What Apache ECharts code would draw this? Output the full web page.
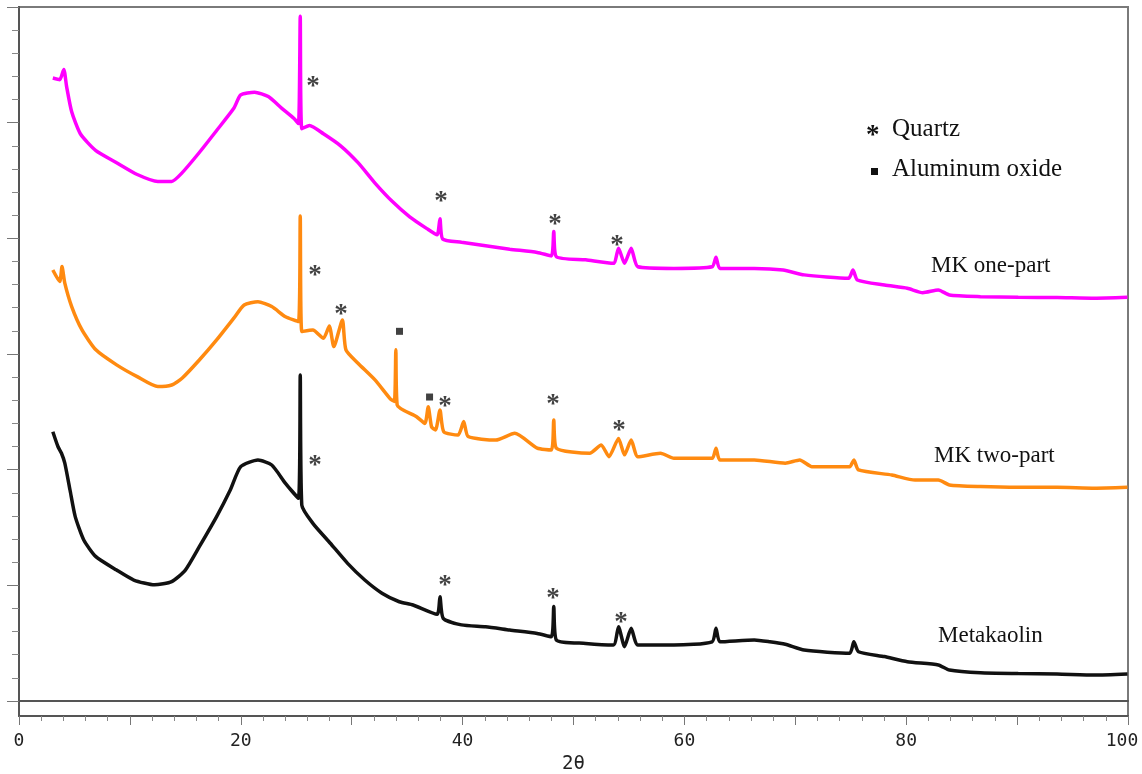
<!DOCTYPE html>
<html>
<head>
<meta charset="utf-8">
<script src="https://cdn.jsdelivr.net/npm/echarts@6/dist/echarts.min.js"></script>
<style>
  html, body { margin: 0; padding: 0; background: #fff; }
  #main { width: 1142px; height: 774px; }
</style>
</head>
<body>
<div id="main"></div>
<script>
// XRD patterns (2θ in degrees, intensity in tick units, offset per curve)
var oneTheta = [3.05, 3.67, 4.04, 4.29, 4.75, 5.53, 6.93, 8.8, 10.66, 12.52, 13.77, 14.7, 16.26, 17.82, 19.37, 19.99, 21.24, 22.48, 23.7, 24.8, 25.2, 25.36, 25.5, 26.2, 27.45, 29.0, 30.57, 32.1, 33.67, 35.23, 36.78, 37.7, 37.96, 38.2, 39.9, 42.07, 44.25, 46.73, 48.0, 48.22, 48.45, 51.1, 53.6, 54.06, 54.6, 55.2, 55.8, 59.06, 62.5, 62.85, 63.2, 66.3, 68.9, 70.8, 74.8, 75.2, 75.6, 78.04, 80.1, 81.5, 82.9, 83.9, 86.7, 90.1, 93.6, 97.0, 99.95];
var oneCounts = [26.93, 26.86, 27.30, 26.57, 25.47, 24.52, 23.79, 23.27, 22.76, 22.46, 22.46, 22.83, 23.71, 24.66, 25.62, 26.2, 26.32, 26.13, 25.62, 25.18, 24.96, 29.6, 24.74, 24.88, 24.52, 24.0, 23.27, 22.39, 21.59, 20.93, 20.42, 20.15, 20.85, 19.97, 19.83, 19.68, 19.53, 19.39, 19.24, 20.3, 19.21, 19.07, 18.92, 19.57, 18.92, 19.57, 18.77, 18.7, 18.77, 19.18, 18.7, 18.7, 18.63, 18.42, 18.27, 18.63, 18.2, 17.98, 17.84, 17.65, 17.77, 17.55, 17.48, 17.45, 17.44, 17.41, 17.45];

var twoTheta = [3.05, 3.67, 3.88, 4.13, 4.75, 5.68, 6.93, 8.8, 10.66, 12.52, 13.77, 14.7, 16.26, 17.82, 19.37, 20.3, 21.55, 22.79, 24.03, 25.2, 25.36, 25.5, 26.5, 27.45, 27.98, 28.39, 29.16, 29.48, 30.57, 32.1, 33.5, 33.85, 33.98, 34.1, 35.85, 36.6, 36.9, 37.2, 37.56, 37.96, 38.3, 39.6, 40.1, 40.5, 43.0, 44.7, 46.73, 48.0, 48.22, 48.45, 51.46, 52.5, 53.2, 54.06, 54.6, 55.2, 55.8, 57.85, 59.06, 62.5, 62.85, 63.2, 66.3, 69.1, 70.4, 71.5, 74.9, 75.28, 75.7, 78.7, 80.8, 82.9, 83.9, 86.7, 90.1, 93.6, 97.0, 99.95];
var twoCounts = [18.63, 18.13, 18.78, 18.06, 17.05, 16.04, 15.18, 14.53, 14.02, 13.59, 13.66, 13.95, 14.74, 15.61, 16.55, 17.12, 17.26, 17.05, 16.61, 16.4, 20.97, 15.97, 16.04, 15.68, 16.21, 15.32, 16.47, 15.18, 14.6, 13.88, 13.05, 12.95, 15.18, 12.8, 12.29, 12.0, 12.72, 11.85, 11.72, 12.58, 11.64, 11.5, 12.08, 11.43, 11.28, 11.57, 10.93, 10.85, 12.15, 10.93, 10.71, 11.07, 10.56, 11.35, 10.64, 11.28, 10.56, 10.71, 10.49, 10.49, 10.93, 10.42, 10.42, 10.28, 10.42, 10.13, 10.13, 10.42, 9.99, 9.77, 9.55, 9.55, 9.34, 9.27, 9.24, 9.24, 9.2, 9.24];

var metaTheta = [3.05, 3.52, 3.83, 4.13, 4.6, 5.07, 5.84, 6.93, 8.8, 10.35, 12.22, 13.77, 15.0, 16.26, 17.82, 19.05, 19.99, 21.55, 22.79, 24.03, 25.2, 25.36, 25.5, 26.5, 28.07, 29.63, 31.18, 32.73, 34.29, 35.53, 37.7, 37.96, 38.25, 39.9, 42.07, 44.25, 46.73, 48.0, 48.22, 48.45, 51.1, 53.6, 54.06, 54.6, 55.2, 55.8, 59.06, 62.5, 62.85, 63.2, 66.3, 67.7, 69.1, 70.8, 74.9, 75.28, 75.7, 78.04, 80.1, 82.9, 83.9, 86.7, 90.1, 93.6, 97.0, 99.95];
var metaCounts = [11.64, 10.99, 10.71, 10.28, 9.12, 7.97, 6.96, 6.24, 5.66, 5.23, 5.02, 5.16, 5.66, 6.67, 7.97, 9.12, 10.13, 10.42, 10.2, 9.41, 8.76, 14.09, 8.47, 7.68, 6.82, 5.95, 5.23, 4.66, 4.29, 4.15, 3.75, 4.51, 3.57, 3.29, 3.21, 3.07, 2.92, 2.78, 4.08, 2.64, 2.49, 2.42, 3.21, 2.35, 3.14, 2.42, 2.42, 2.56, 3.14, 2.56, 2.64, 2.56, 2.45, 2.2, 2.06, 2.56, 2.13, 1.92, 1.7, 1.56, 1.34, 1.22, 1.19, 1.17, 1.12, 1.17];

// peak markers
var quartzTheta = [26.51, 38.05, 48.33, 53.92, 26.69, 29.03, 38.41, 48.15, 54.1, 26.69, 38.41, 48.15, 54.28];
var quartzLevel = [26.85, 21.88, 20.88, 19.97, 18.68, 16.99, 13.01, 13.10, 11.98, 10.46, 5.27, 4.71, 3.67];
var oxideTheta = [34.31, 37.02];
var oxideLevel = [15.98, 13.14];

function zip(xs, ys) {
  return xs.map(function (x, i) { return [x, ys[i]]; });
}

var chart = echarts.init(document.getElementById('main'));

var serif = 'Liberation Serif';
var mono = 'DejaVu Sans Mono';

function curve(name, xs, ys, color) {
  return {
    name: name,
    type: 'line',
    xAxisIndex: 1,
    yAxisIndex: 1,
    data: zip(xs, ys),
    symbol: 'none',
    smooth: 0.2,
    lineStyle: { color: color, width: 3.5 },
    z: 3
  };
}

var option = {
  animation: false,
  grid: [
    { left: 19, right: 14, top: 7, bottom: 58, outerBoundsMode: 'none', containLabel: false,
      show: true, borderColor: '#7a7a7a', borderWidth: 2 },
    { left: 19, right: 14, top: 7, bottom: 73, outerBoundsMode: 'none', containLabel: false }
  ],
  xAxis: [
    {
      gridIndex: 0, type: 'value', min: 0, max: 100, interval: 10,
      axisLine: { lineStyle: { color: '#555', width: 2 } },
      axisTick: { length: 9, lineStyle: { color: '#777' } },
      minorTick: { show: true, splitNumber: 5, length: 5, lineStyle: { color: '#888' } },
      splitLine: { show: false },
      axisLabel: {
        formatter: function (v) {
          if (v === 100) return '{last|100}';
          return v % 20 === 0 ? String(v) : '';
        },
        rich: { last: { fontFamily: mono, fontSize: 18, color: '#222', padding: [0, 12, 0, 0] } },
        fontFamily: mono, fontSize: 18, color: '#222', margin: 16
      },
      name: '2θ', nameLocation: 'middle', nameGap: 35,
      nameTextStyle: { fontFamily: mono, fontSize: 19, color: '#222' }
    },
    {
      gridIndex: 1, type: 'value', min: 0, max: 100,
      axisLine: { onZero: false, lineStyle: { color: '#555', width: 2 } },
      axisTick: { show: false }, axisLabel: { show: false }, splitLine: { show: false }
    }
  ],
  yAxis: [
    {
      gridIndex: 0, type: 'value', min: 0, max: 1,
      axisLine: { show: true, lineStyle: { color: '#555', width: 2 } },
      axisTick: { show: false }, axisLabel: { show: false }, splitLine: { show: false }
    },
    {
      gridIndex: 1, type: 'value', min: 0, max: 30, interval: 5,
      axisLine: { show: true, lineStyle: { color: '#555', width: 2 } },
      axisTick: { show: true, length: 12, lineStyle: { color: '#777' } },
      minorTick: { show: true, splitNumber: 5, length: 7, lineStyle: { color: '#888' } },
      axisLabel: { show: false }, splitLine: { show: false }
    }
  ],
  series: [
    curve('MK one-part', oneTheta, oneCounts, '#ff00ff'),
    curve('MK two-part', twoTheta, twoCounts, '#ff8a10'),
    curve('Metakaolin', metaTheta, metaCounts, '#111111'),
    {
      name: 'Quartz',
      type: 'scatter',
      xAxisIndex: 1, yAxisIndex: 1,
      data: zip(quartzTheta, quartzLevel),
      symbol: 'circle', symbolSize: 2,
      itemStyle: { color: 'rgba(0,0,0,0)' },
      label: {
        show: true, formatter: '*', position: 'inside',
        fontFamily: serif, fontSize: 27, fontWeight: 'bold', color: '#111', offset: [0, 7]
      },
      z: 5
    },
    {
      name: 'Aluminum oxide',
      type: 'scatter',
      xAxisIndex: 1, yAxisIndex: 1,
      data: zip(oxideTheta, oxideLevel),
      symbol: 'rect', symbolSize: 7,
      itemStyle: { color: '#111' },
      z: 5
    }
  ],
  graphic: [
    { type: 'text', left: 866, top: 123, style: { text: '*', font: 'bold 27px "Liberation Serif"', fill: '#111' } },
    { type: 'rect', shape: { x: 871, y: 168, width: 7, height: 7 }, style: { fill: '#111' } },
    { type: 'text', left: 892, top: 117, style: { text: 'Quartz', font: '25px "Liberation Serif"', fill: '#111' } },
    { type: 'text', left: 892, top: 157, style: { text: 'Aluminum oxide', font: '25px "Liberation Serif"', fill: '#111' } },
    { type: 'text', left: 931, top: 254, style: { text: 'MK one-part', font: '23px "Liberation Serif"', fill: '#111' } },
    { type: 'text', left: 934, top: 444, style: { text: 'MK two-part', font: '23px "Liberation Serif"', fill: '#111' } },
    { type: 'text', left: 938, top: 624, style: { text: 'Metakaolin', font: '23px "Liberation Serif"', fill: '#111' } }
  ]
};

chart.setOption(option);
</script>
</body>
</html>
